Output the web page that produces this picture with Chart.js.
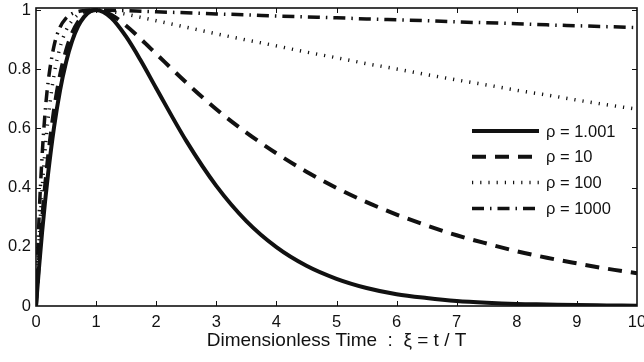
<!DOCTYPE html>
<html>
<head>
<meta charset="utf-8">
<script src="https://cdn.jsdelivr.net/npm/chart.js@4.4.1/dist/chart.umd.min.js"></script>
<style>
  body { margin: 0; background: #fff; }
  canvas { display: block; }
</style>
</head>
<body>
<canvas id="chart" width="644" height="362"></canvas>
<script>
// dimensionless time samples
const xi = [0, 0.05, 0.1, 0.15, 0.2, 0.3, 0.4, 0.5, 0.6, 0.7, 0.8, 0.9, 1,
  1.25, 1.5, 1.75, 2, 2.5, 3, 3.5, 4, 4.5, 5, 5.5, 6, 6.5, 7, 7.5, 8, 8.5, 9, 9.5, 10];

// values
const rho1 = [0, 0.129, 0.246, 0.351, 0.445, 0.604, 0.729, 0.824, 0.895, 0.945, 0.977, 0.995, 1,
  0.974, 0.910, 0.827, 0.736, 0.558, 0.406, 0.287, 0.199, 0.136, 0.092, 0.061, 0.040, 0.027, 0.017,
  0.011, 0.007, 0.005, 0.003, 0.002, 0.001];
const rho10 = [0, 0.154, 0.288, 0.403, 0.503, 0.663, 0.780, 0.863, 0.922, 0.960, 0.984, 0.996, 1,
  0.984, 0.947, 0.901, 0.852, 0.755, 0.665, 0.586, 0.516, 0.454, 0.399, 0.351, 0.309, 0.272, 0.239,
  0.211, 0.185, 0.163, 0.144, 0.126, 0.111];
const rho100 = [0, 0.217, 0.389, 0.524, 0.631, 0.781, 0.874, 0.931, 0.964, 0.984, 0.994, 0.999, 1,
  0.995, 0.986, 0.975, 0.964, 0.942, 0.920, 0.899, 0.879, 0.858, 0.839, 0.819, 0.801, 0.782, 0.764,
  0.747, 0.729, 0.713, 0.696, 0.680, 0.665];
const rho1000 = [0, 0.294, 0.502, 0.650, 0.754, 0.879, 0.942, 0.973, 0.988, 0.995, 0.998, 1.000, 1,
  0.999, 0.998, 0.996, 0.994, 0.991, 0.987, 0.984, 0.980, 0.977, 0.974, 0.970, 0.967, 0.964, 0.960,
  0.957, 0.954, 0.950, 0.947, 0.944, 0.941];

const seriesLabels = ['ρ = 1.001', 'ρ = 10', 'ρ = 100', 'ρ = 1000'];
const xTicks = [0, 1, 2, 3, 4, 5, 6, 7, 8, 9, 10];
const yTicks = [0, 0.2, 0.4, 0.6, 0.8, 1];

const FONT = '"Liberation Sans", Arial, Helvetica, sans-serif';

function pts(ys) {
  return xi.map((x, i) => ({ x: x, y: ys[i] }));
}

const styles = [
  { borderWidth: 4, borderDash: [] },
  { borderWidth: 4, borderDash: [14, 9] },
  { borderWidth: 3.5, borderDash: [1.2, 7] },
  { borderWidth: 3.5, borderDash: [12, 6, 1.5, 6] }
];

const datasets = [rho1, rho10, rho100, rho1000].map((ys, i) => ({
  label: seriesLabels[i],
  data: pts(ys),
  borderColor: '#111',
  backgroundColor: '#111',
  borderWidth: styles[i].borderWidth,
  borderDash: styles[i].borderDash,
  pointRadius: 0,
  cubicInterpolationMode: 'monotone',
  fill: false
}));

// box, inward ticks on all four sides, and the legend
const framePlugin = {
  id: 'frame',
  afterDatasetsDraw(chart) {
    const ctx = chart.ctx;
    const a = chart.chartArea;
    const xs = chart.scales.x, ys = chart.scales.y;
    ctx.save();
    ctx.strokeStyle = '#111';
    ctx.lineWidth = 1;
    ctx.setLineDash([]);
    ctx.beginPath();
    xTicks.slice(1, -1).forEach(v => {
      const px = Math.round(xs.getPixelForValue(v)) + 0.5;
      ctx.moveTo(px, a.bottom); ctx.lineTo(px, a.bottom - 5);
      ctx.moveTo(px, a.top); ctx.lineTo(px, a.top + 5);
    });
    yTicks.slice(1).forEach(v => {
      const py = Math.round(ys.getPixelForValue(v)) + 0.5;
      ctx.moveTo(a.left, py); ctx.lineTo(a.left + 5, py);
      ctx.moveTo(a.right, py); ctx.lineTo(a.right - 5, py);
    });
    ctx.stroke();
    ctx.lineWidth = 1.6;
    ctx.strokeRect(a.left, a.top, a.right - a.left, a.bottom - a.top);

    // legend
    const x0 = a.right - 165, x1 = a.right - 98, tx = a.right - 91;
    ctx.font = '16.5px ' + FONT;
    ctx.fillStyle = '#111';
    ctx.textBaseline = 'middle';
    chart.data.datasets.forEach((ds, i) => {
      const y = a.top + 123 + i * 25.8;
      ctx.beginPath();
      ctx.lineWidth = ds.borderWidth;
      ctx.setLineDash(ds.borderDash);
      ctx.moveTo(x0, y); ctx.lineTo(x1, y);
      ctx.stroke();
      ctx.setLineDash([]);
      ctx.fillText(ds.label, tx, y + 1);
    });
    ctx.restore();
  }
};

new Chart(document.getElementById('chart'), {
  type: 'line',
  data: { datasets: datasets },
  options: {
    responsive: false,
    animation: false,
    devicePixelRatio: 1,
    layout: { padding: { top: 8, right: 7, left: 0, bottom: 0 } },
    plugins: {
      legend: { display: false },
      tooltip: { enabled: false }
    },
    scales: {
      x: {
        type: 'linear',
        min: 0,
        max: 10,
        afterBuildTicks: s => { s.ticks = xTicks.map(v => ({ value: v })); },
        afterFit: s => { s.height = 56; s.paddingLeft = 0; s.paddingRight = 0; },
        grid: { display: false, drawTicks: false },
        border: { display: false },
        ticks: { color: '#111', padding: 7, font: { family: FONT, size: 16.5 }, maxRotation: 0 },
        title: {
          display: true,
          text: 'Dimensionless Time  :  ξ = t / T',
          color: '#111',
          font: { family: FONT, size: 19 },
          padding: { top: 0, bottom: 10 }
        }
      },
      y: {
        min: 0,
        max: 1.007,
        afterBuildTicks: s => { s.ticks = yTicks.map(v => ({ value: v })); },
        afterFit: s => { s.width = 36; s.paddingTop = 0; s.paddingBottom = 0; },
        grid: { display: false, drawTicks: false },
        border: { display: false },
        ticks: {
          color: '#111',
          padding: 5,
          font: { family: FONT, size: 16.5 },
          callback: v => String(v)
        }
      }
    }
  },
  plugins: [framePlugin]
});
</script>
</body>
</html>
